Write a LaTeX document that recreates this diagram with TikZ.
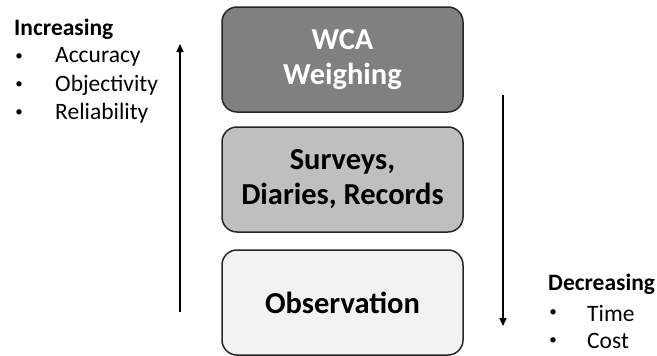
\documentclass[tikz,border=0pt]{standalone}
\usepackage{fontspec}
\setmainfont{Carlito}
\usetikzlibrary{arrows.meta}
\definecolor{boxdark}{HTML}{808080}
\definecolor{boxmid}{HTML}{BFBFBF}
\definecolor{boxlight}{HTML}{F2F2F2}
\definecolor{edge}{HTML}{262626}
\begin{document}
\begin{tikzpicture}[x=1pt,y=-1pt,
  level/.style={draw=edge,line width=1.5pt,rounded corners=15pt,minimum width=241pt,minimum height=105pt,inner sep=0pt,align=center,font=\fontsize{30.5}{35}\selectfont\bfseries},
  head/.style={anchor=west,inner sep=0pt,font=\fontsize{23.5}{28}\selectfont\bfseries},
  item/.style={anchor=west,inner sep=0pt,font=\fontsize{23.5}{28}\selectfont},
  dot/.style={anchor=center,inner sep=0pt,font=\fontsize{15}{18}\selectfont},
  flow/.style={line width=1.6pt,-{Triangle[length=8pt,width=7pt]}}]
\useasboundingbox (0,0) rectangle (657,356);
\node[level,fill=boxdark,text=white] (wca) at (342.5,59.5) {WCA\\Weighing};
\node[level,fill=boxmid] (sur) at (342.5,179.5) {Surveys,\\Diaries, Records};
\node[level,fill=boxlight] (obs) at (342.5,302.5) {Observation};
\coordinate (upS) at (180,312);
\coordinate (upE) at (180,44);
\coordinate (dnS) at (503,95);
\coordinate (dnE) at (503,326);
\draw[flow] (upS) -- (upE);
\draw[flow] (dnS) -- (dnE);
\node[head] (inc) at (14,29) {Increasing};
\node[dot] (b1) at (19,57) {•};
\node[item] (acc) at (55,57) {Accuracy};
\node[dot] (b2) at (19,85) {•};
\node[item] (obj) at (55,85) {Objectivity};
\node[dot] (b3) at (19,113) {•};
\node[item] (rel) at (55,113) {Reliability};
\node[head] (dec) at (548,284) {Decreasing};
\node[dot] (b4) at (553,313) {•};
\node[item] (tim) at (587,313) {Time};
\node[dot] (b5) at (553,341) {•};
\node[item] (cos) at (587,341) {Cost};
\end{tikzpicture}
\end{document}
